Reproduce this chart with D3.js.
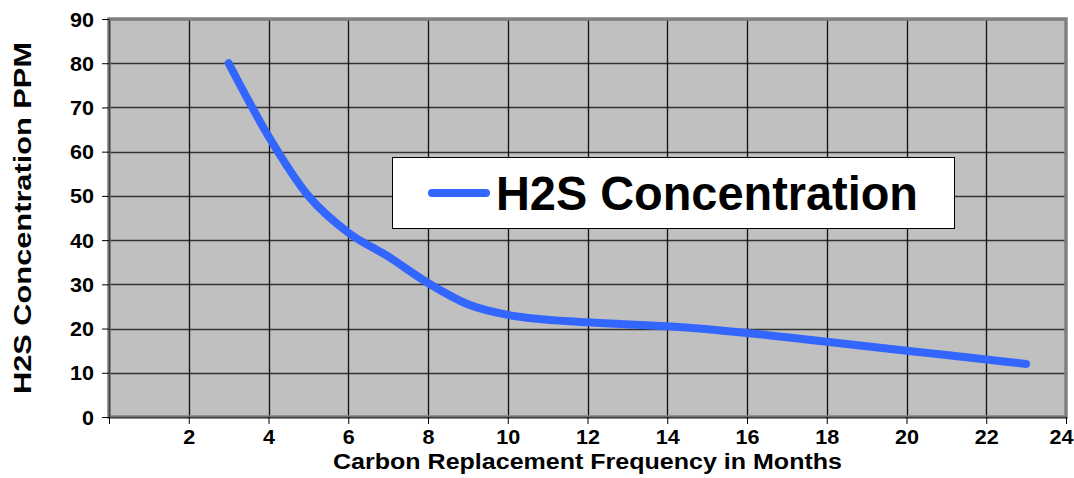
<!DOCTYPE html>
<html>
<head>
<meta charset="utf-8">
<script src="https://cdn.jsdelivr.net/npm/d3@7"></script>
<style>
  html, body { margin: 0; padding: 0; background: #fff; }
  text { font-family: "Liberation Sans", Arial, sans-serif; font-weight: bold; fill: #000; }
</style>
</head>
<body>
<svg id="chart" width="1074" height="478"></svg>
<script>
// ---- data ----
const months = [3, 4, 5, 6, 7, 8, 9, 10, 12, 14, 16, 18, 20, 22, 23];
const h2sPpm = [80, 63.5, 50, 41.7, 36.3, 30.3, 25.5, 23.1, 21.4, 20.5, 19.0, 17.0, 15.0, 13.0, 12.0];
const xTicks = [0, 2, 4, 6, 8, 10, 12, 14, 16, 18, 20, 22, 24];
const yTicks = [0, 10, 20, 30, 40, 50, 60, 70, 80, 90];
const seriesName = "H2S Concentration";
const xTitle = "Carbon Replacement Frequency in Months";
const yTitle = "H2S Concentration PPM";

const svg = d3.select("#chart");
const L = 109, R = 1066, T = 19, B = 417;

const x = d3.scaleLinear().domain([0, 24]).range([L, R]);
const y = d3.scaleLinear().domain([0, 90]).range([B, T]);

// plot background
svg.append("rect").attr("x", L).attr("y", T).attr("width", R - L).attr("height", B - T)
  .attr("fill", "#c0c0c0");

// gridlines
svg.append("g").selectAll("line").data(yTicks.slice(1)).join("line")
  .attr("x1", L).attr("x2", R).attr("y1", d => Math.round(y(d)) + 0.5).attr("y2", d => Math.round(y(d)) + 0.5)
  .attr("stroke", "#333").attr("stroke-width", 1.3);
svg.append("g").selectAll("line").data(xTicks.slice(1, -1)).join("line")
  .attr("y1", T).attr("y2", B).attr("x1", d => Math.round(x(d)) + 0.5).attr("x2", d => Math.round(x(d)) + 0.5)
  .attr("stroke", "#111").attr("stroke-width", 1.3);

// plot border
svg.append("rect").attr("x", L).attr("y", T).attr("width", R - L).attr("height", B - T)
  .attr("fill", "none").attr("stroke", "#808080").attr("stroke-width", 3.5);

// axes
const yAxis = d3.axisLeft(y).tickValues(yTicks).tickSize(7).tickSizeOuter(0).tickPadding(8);
const gy = svg.append("g").attr("transform", `translate(${L},0)`).call(yAxis);
gy.select(".domain").attr("stroke", "#444").attr("stroke-width", 1.5);
gy.selectAll(".tick line").attr("stroke", "#000");
gy.selectAll(".tick text").style("font-size", "19.5px").attr("font-family", null).attr("fill", "#000")
  .attr("dy", "0.36em")
  .each(function(d) { d3.select(this).attr("textLength", d < 10 ? 12 : 24).attr("lengthAdjust", "spacingAndGlyphs"); });

const xAxis = d3.axisBottom(x).tickValues(xTicks).tickSize(7).tickSizeOuter(0).tickPadding(6)
  .tickFormat(d => d === 0 ? "" : d);
const gx = svg.append("g").attr("transform", `translate(0,${B})`).call(xAxis);
gx.select(".domain").attr("stroke", "#444").attr("stroke-width", 1.5);
gx.selectAll(".tick line").attr("stroke", "#000");
gx.selectAll(".tick text").style("font-size", "19.5px").attr("font-family", null).attr("fill", "#000")
  .each(function(d) {
    const t = d3.select(this).attr("textLength", d < 10 ? 12 : 24).attr("lengthAdjust", "spacingAndGlyphs");
    if (d === 24) t.attr("text-anchor", "end").attr("x", 7);
  });

// series line
const line = d3.line().x((d, i) => x(months[i])).y(d => y(d)).curve(d3.curveMonotoneX);
svg.append("path").datum(h2sPpm).attr("d", line)
  .attr("fill", "none").attr("stroke", "#3366ff").attr("stroke-width", 8)
  .attr("stroke-linecap", "round").attr("stroke-linejoin", "round");

// legend
const lg = svg.append("g");
lg.append("rect").attr("x", 392.5).attr("y", 157.5).attr("width", 562).attr("height", 71)
  .attr("fill", "#fff").attr("stroke", "#000").attr("stroke-width", 1);
lg.append("line").attr("x1", 432).attr("x2", 486).attr("y1", 193).attr("y2", 193)
  .attr("stroke", "#3366ff").attr("stroke-width", 8).attr("stroke-linecap", "round");
lg.append("text").attr("x", 496).attr("y", 210).style("font-size", "48px")
  .attr("textLength", 422).attr("lengthAdjust", "spacingAndGlyphs").text(seriesName);

// axis titles
svg.append("text").attr("x", 333).attr("y", 469).style("font-size", "22px")
  .attr("textLength", 509).attr("lengthAdjust", "spacingAndGlyphs").text(xTitle);
svg.append("text").attr("transform", "translate(31,218) rotate(-90)").attr("text-anchor", "middle")
  .style("font-size", "24px").attr("textLength", 352).attr("lengthAdjust", "spacingAndGlyphs").text(yTitle);
</script>
</body>
</html>
